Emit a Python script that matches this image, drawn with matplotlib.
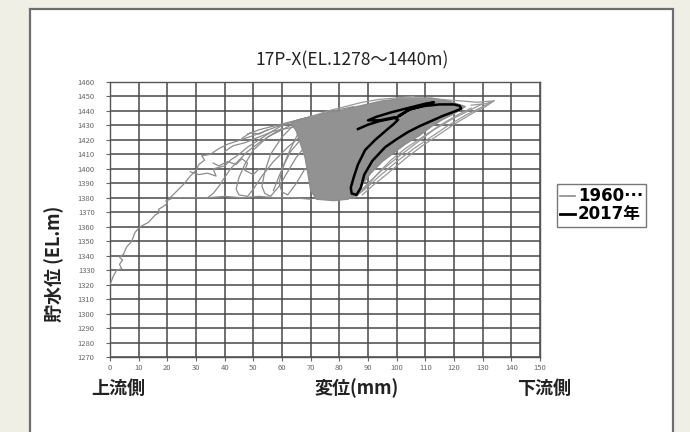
import matplotlib
matplotlib.use("Agg")
import matplotlib.pyplot as plt
from matplotlib.patches import Rectangle
from matplotlib.lines import Line2D

plt.rcParams["font.family"] = ["Noto Sans CJK JP", "DejaVu Sans"]

TITLE = "17P-X(EL.1278～1440m)"
YLABEL = "貯水位 (EL.m)"
XLABEL = "変位(mm)"
LEFT_NOTE = "上流側"
RIGHT_NOTE = "下流側"
LEGEND_LABELS = ["1960···", "2017年"]

X_TICKS = list(range(0, 151, 10))
Y_TICKS = list(range(1270, 1461, 10))

# 1960... : lone rising branch from the first filling
main_x = [0, 1.2, 2.3, 4.1, 3.3, 4.4, 3.3, 4.7, 5.8, 7.6, 8.7, 10.5, 13.4, 15.7,
          17.4, 16.9, 18.6, 20, 19.5, 21, 22, 25, 30, 34]
main_y = [1320, 1326, 1330, 1331, 1334, 1337, 1339, 1341, 1346, 1350, 1356, 1360,
          1363, 1368, 1370, 1372, 1374, 1376, 1378, 1379, 1380, 1380, 1380, 1380]

# 1960... : sparse loops on the upstream side
sparse_loops = [
    ([20, 23, 26, 28, 30, 31, 33, 32, 35, 38, 41, 44, 47, 50, 54, 58, 62],
     [1378, 1384, 1390, 1395, 1399, 1403, 1406, 1409, 1410, 1414, 1417, 1419, 1421,
      1423, 1426, 1429, 1431]),
    ([28, 31, 34, 37, 36, 40, 42, 45, 48, 52, 55, 60, 66, 72],
     [1398, 1396, 1397, 1395, 1400, 1402, 1406, 1410, 1415, 1420, 1424, 1430, 1434,
      1437]),
    ([34, 36, 38, 40, 42, 45, 48, 52, 56, 60, 64, 70],
     [1380, 1383, 1388, 1394, 1400, 1406, 1412, 1418, 1423, 1427, 1431, 1436]),
    ([60, 55, 50, 47, 45, 44, 45, 48, 50, 53, 57, 62, 68],
     [1428, 1422, 1413, 1403, 1394, 1386, 1382, 1381, 1386, 1395, 1405, 1415, 1425]),
    ([64, 60, 56, 54, 53, 54, 56, 59, 62, 65, 70],
     [1430, 1422, 1410, 1398, 1388, 1383, 1381, 1388, 1398, 1408, 1420]),
    ([66, 63, 60, 59, 60, 62, 65, 68],
     [1426, 1414, 1400, 1390, 1384, 1382, 1390, 1400]),
    ([36, 38, 41, 44, 46, 48, 47, 50, 52],
     [1404, 1402, 1405, 1403, 1407, 1404, 1399, 1396, 1400]),
    ([34, 40, 46, 52, 58, 64, 70],
     [1380, 1381, 1380, 1381, 1380, 1380, 1379]),
    ([48, 52, 56, 62, 68, 74, 80, 85],
     [1424, 1427, 1429, 1432, 1435, 1438, 1441, 1443]),
    ([46, 49, 52, 55],
     [1421, 1425, 1424, 1427]),
    ([40, 43, 47, 52, 57, 62, 66],
     [1412, 1416, 1418, 1422, 1426, 1428, 1430]),
    ([57, 59, 61, 63, 66, 68],
     [1385, 1395, 1404, 1412, 1419, 1424]),
]

# 1960... : dense core of loops (outline of the solid grey mass)
core_x = [63, 65, 66, 68, 69, 70, 72, 78, 83, 86, 88, 91, 95, 99, 103, 108, 112,
          116, 120, 124, 118, 112, 104, 95, 86, 80, 72, 66]
core_y = [1432, 1426, 1420, 1408, 1397, 1385, 1379, 1378, 1379, 1382, 1389, 1397,
          1405, 1411, 1417, 1423, 1429, 1434, 1438, 1443, 1447, 1449, 1449, 1447,
          1443, 1440, 1437, 1434]

# 1960... : loose band of loops on the downstream side
band_loops = [
    ([85, 89, 94, 100, 106, 112, 118, 124, 129, 133],
     [1380, 1386, 1395, 1405, 1414, 1422, 1430, 1437, 1442, 1446]),
    ([88, 92, 97, 103, 109, 115, 121, 127, 131, 134],
     [1382, 1389, 1397, 1407, 1416, 1424, 1432, 1439, 1443, 1447]),
    ([87, 91, 96, 101, 107, 113, 119, 125, 130],
     [1384, 1392, 1401, 1409, 1418, 1427, 1434, 1440, 1445]),
    ([86, 90, 94, 98, 103, 109, 115, 121, 126],
     [1381, 1389, 1398, 1406, 1414, 1422, 1430, 1437, 1442]),
    ([100, 108, 115, 122, 128, 134, 131, 126],
     [1449, 1448, 1448, 1447, 1446, 1447, 1445, 1444]),
    ([70, 76, 82, 88, 94, 100, 106],
     [1436, 1440, 1443, 1446, 1448, 1449, 1450]),
]

# 2017
y2017_x = [86.5, 90, 94, 99, 101, 104, 109, 113, 110, 104, 98, 93, 90, 94, 99,
           100.5, 99, 96, 92.5, 89, 86.5, 85, 84, 84.3, 86, 87.5, 88.7, 91.5, 96,
           100, 104, 108, 112, 116, 120, 122.5, 122, 120, 115, 110, 105, 101]
y2017_y = [1427.5, 1430.5, 1433, 1435, 1436.5, 1440.5, 1443.5, 1446, 1445, 1442,
           1439, 1436, 1433.5, 1433.5, 1435.5, 1434, 1431, 1426, 1420, 1413, 1403,
           1394, 1387, 1383, 1382, 1387, 1396, 1405.5, 1415, 1420.5, 1425.5,
           1429.5, 1433, 1436.5, 1439.5, 1441.5, 1443.5, 1444.5, 1444.5, 1443.5,
           1441.5, 1437]

GREY = "#8c8c8c"

fig = plt.figure(figsize=(6.9, 4.32), dpi=100, facecolor="#f0efe6")
fig.patches.append(Rectangle((0.0428, -0.05), 0.9322, 1.03, transform=fig.transFigure,
                             facecolor="white", edgecolor="#6e6e6e", linewidth=1.6,
                             zorder=-5))

ax = fig.add_axes([0.1594, 0.1736, 0.6232, 0.6366])
ax.set_zorder(2)
ax.set_facecolor("white")

ax.plot(main_x, main_y, color=GREY, lw=0.9, zorder=3)
for lx, ly in sparse_loops:
    ax.plot(lx, ly, color=GREY, lw=0.9, zorder=3)
ax.fill(core_x, core_y, color="#929292", lw=0.9, edgecolor=GREY, zorder=3)
for lx, ly in band_loops:
    ax.plot(lx, ly, color="#999999", lw=0.9, zorder=3)
ax.plot(y2017_x, y2017_y, color="black", lw=1.8, zorder=4)

ax.set_xlim(0, 150)
ax.set_ylim(1270, 1460)
ax.set_xticks(X_TICKS)
ax.set_yticks(Y_TICKS)
ax.grid(True, color="#484848", lw=1.1, zorder=1)
ax.set_axisbelow(True)
for s in ax.spines.values():
    s.set_color("#555555")
    s.set_linewidth(1.0)
ax.tick_params(axis="both", labelsize=5.5, labelcolor="#666666", color="#666666",
               length=3, width=0.8, pad=2)
ax.tick_params(axis="y", pad=8)

fig.text(352 / 690, 1 - 60 / 432, TITLE, ha="center", va="center", fontsize=12.5,
         color="#222222")
fig.text(54 / 690, 1 - 264 / 432, YLABEL, ha="center", va="center", rotation=90,
         fontsize=13, fontweight="bold", color="#222222")
fig.text(118 / 690, 1 - 388 / 432, LEFT_NOTE, ha="center", va="center",
         fontsize=13, fontweight="bold", color="#222222")
fig.text(357 / 690, 1 - 388 / 432, XLABEL, ha="center", va="center",
         fontsize=13, fontweight="bold", color="#222222")
fig.text(544 / 690, 1 - 388 / 432, RIGHT_NOTE, ha="center", va="center",
         fontsize=13, fontweight="bold", color="#222222")

handles = [Line2D([], [], color=GREY, lw=1.2), Line2D([], [], color="black", lw=2)]
leg = fig.legend(handles, LEGEND_LABELS, loc="upper left",
                 bbox_to_anchor=(557 / 690, 1 - 184 / 432), frameon=True,
                 fancybox=False, edgecolor="#555555", handlelength=0.9,
                 handletextpad=0.15, borderpad=0.2, labelspacing=0.0,
                 borderaxespad=0,
                 prop={"size": 12, "weight": "bold",
                       "family": ["DejaVu Sans", "Noto Sans CJK JP"]})
leg.get_frame().set_linewidth(1.0)

fig.savefig("out.png", dpi=100, facecolor=fig.get_facecolor())
